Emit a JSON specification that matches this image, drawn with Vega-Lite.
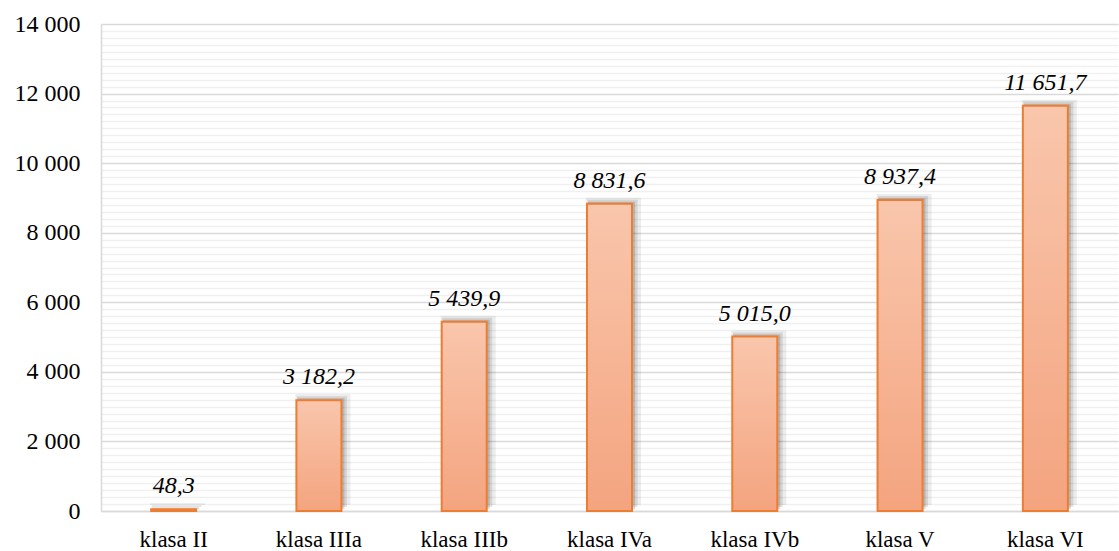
{
  "$schema": "https://vega.github.io/schema/vega-lite/v6.json",
  "width": 1017,
  "height": 487,
  "autosize": "none",
  "padding": {"left": 101, "top": 24, "right": 1, "bottom": 40},
  "background": "white",
  "config": {
    "locale": {"number": {"decimal": ",", "thousands": "\u00a0", "grouping": [3], "currency": ["", ""]}},
    "view": {"stroke": null},
    "font": "Liberation Serif"
  },
  "data": {
    "values": [
      {"klasa": "klasa II", "v": 48.3},
      {"klasa": "klasa IIIa", "v": 3182.2},
      {"klasa": "klasa IIIb", "v": 5439.9},
      {"klasa": "klasa IVa", "v": 8831.6},
      {"klasa": "klasa IVb", "v": 5015.0},
      {"klasa": "klasa V", "v": 8937.4},
      {"klasa": "klasa VI", "v": 11651.7}
    ]
  },
  "encoding": {
    "x": {
      "field": "klasa", "type": "nominal", "sort": null,
      "scale": {"paddingInner": 0.69, "paddingOuter": 0.345},
      "axis": {"title": null, "labelAngle": 0, "ticks": false, "domain": true, "domainColor": "#d9d9d9", "domainWidth": 1.5,
               "labelFont": "Liberation Serif", "labelFontSize": 23, "labelColor": "#000000", "labelPadding": 17}
    }
  },
  "layer": [
    {
      "mark": {"type": "bar", "opacity": 0},
      "encoding": {
        "y": {"field": "v", "type": "quantitative", "scale": {"domain": [0, 14000], "nice": false},
              "axis": {"orient": "right", "title": null, "labels": false, "ticks": false, "domain": false,
                       "grid": true, "gridColor": "#f0f0f0", "gridWidth": 1.5,
                       "values": [200,400,600,800,1000,1200,1400,1600,1800,2200,2400,2600,2800,3000,3200,3400,3600,3800,4200,4400,4600,4800,5000,5200,5400,5600,5800,6200,6400,6600,6800,7000,7200,7400,7600,7800,8200,8400,8600,8800,9000,9200,9400,9600,9800,10200,10400,10600,10800,11000,11200,11400,11600,11800,12200,12400,12600,12800,13000,13200,13400,13600,13800]}}
      }
    },
    {
      "mark": {"type": "bar", "width": 55, "color": "#000000", "opacity": 0.07, "xOffset": 4, "yOffset": -6},
      "encoding": {
        "y": {"field": "v", "type": "quantitative", "scale": {"domain": [0, 14000], "nice": false},
              "axis": {"orient": "left", "title": null, "ticks": false, "domain": true, "domainColor": "#d9d9d9", "domainWidth": 1.5,
                       "grid": true, "gridColor": "#d9d9d9", "gridWidth": 1.5,
                       "values": [0, 2000, 4000, 6000, 8000, 10000, 12000, 14000], "format": ",.0f",
                       "labelFont": "Liberation Serif", "labelFontSize": 24, "labelColor": "#000000", "labelPadding": 21}}
      }
    },
    {
      "mark": {"type": "bar", "width": 50, "color": "#000000", "opacity": 0.1, "xOffset": 3, "yOffset": -4},
      "encoding": {"y": {"field": "v", "type": "quantitative", "axis": null}}
    },
    {
      "mark": {"type": "bar", "width": 47, "color": "#000000", "opacity": 0.14, "xOffset": 2, "yOffset": -2},
      "encoding": {"y": {"field": "v", "type": "quantitative", "axis": null}}
    },
    {
      "mark": {
        "type": "bar", "width": 45, "stroke": "#ed7d31", "strokeWidth": 2,
        "fill": {"gradient": "linear", "x1": 0, "y1": 0, "x2": 0, "y2": 1,
                 "stops": [{"offset": 0, "color": "#f9c6ac"}, {"offset": 1, "color": "#f4a47f"}]}
      },
      "encoding": {"y": {"field": "v", "type": "quantitative", "axis": null}}
    },
    {
      "mark": {"type": "text", "font": "Liberation Serif", "fontStyle": "italic", "fontSize": 24, "baseline": "alphabetic", "dy": -16, "color": "#000000"},
      "encoding": {
        "y": {"field": "v", "type": "quantitative", "axis": null},
        "text": {"field": "v", "type": "quantitative", "format": ",.1f"}
      }
    }
  ],
  "resolve": {"axis": {"y": "independent"}}
}
